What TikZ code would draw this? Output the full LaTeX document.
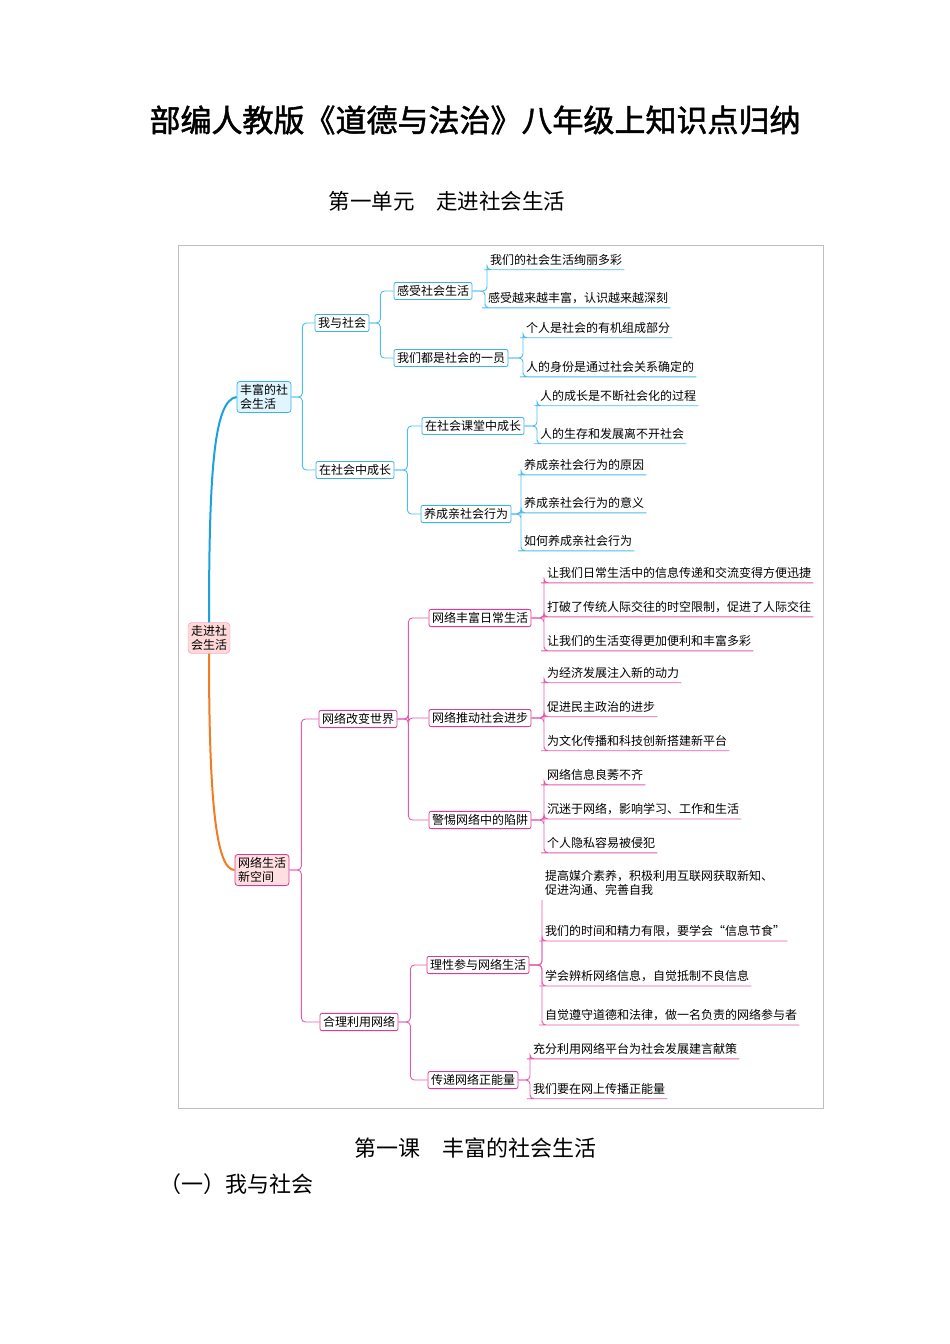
\documentclass[tikz,border=0pt]{standalone}
\usepackage{fontspec}
\newfontfamily\cjk{Noto Sans CJK SC}
\newfontfamily\cjkb{Noto Sans CJK SC}[FakeBold=1.6]
\begin{document}
\begin{tikzpicture}[x=1pt,y=-1pt,font=\cjk\fontsize{12}{14}\selectfont,
  cbox/.style={draw=cy,fill=white,rounded corners=2,inner sep=3pt,line width=0.8},
  pbox/.style={draw=pk,fill=white,rounded corners=2,inner sep=3pt,line width=0.8},
  leaf/.style={anchor=west,inner xsep=2pt,inner ysep=4pt,font=\cjk\fontsize{12}{14.5}\selectfont},
  cl/.style={draw=cyl,line width=0.9,rounded corners=4},
  pl/.style={draw=pkl,line width=0.9,rounded corners=4}]
\definecolor{cy}{HTML}{3AB4E6}\definecolor{cyl}{HTML}{4DBDEB}
\definecolor{pk}{HTML}{E0379A}\definecolor{pkl}{HTML}{E45AAE}
\definecolor{rb}{HTML}{1BA1E2}\definecolor{ro}{HTML}{F07B22}
\useasboundingbox (0,0) rectangle (950,1344);
\node[font=\cjkb\fontsize{31}{34}\selectfont] (title) at (475,120) {部编人教版《道德与法治》八年级上知识点归纳};
\node[font=\cjk\fontsize{21.5}{24}\selectfont] (sub) at (447,201) {第一单元\quad 走进社会生活};
\draw[gray!50,line width=0.6] (178,245) rectangle (823,1108);
% roots
\node[draw=pk!60,fill=pink!60,rounded corners=4,align=left,inner sep=3pt] (root) at (209,638) {走进社\\会生活};
\node[draw=cy,fill=cyan!12,rounded corners=3,align=left,inner sep=3pt,line width=0.8] (rich) at (264,397) {丰富的社\\会生活};
\node[draw=pk,fill=pink!50,rounded corners=3,align=left,inner sep=3pt,line width=0.8] (net) at (262,870) {网络生活\\新空间};
\draw[rb,line width=2] (root.north) .. controls (209,470) and (214,400) .. (rich.west);
\draw[ro,line width=2] (root.south) .. controls (209,800) and (216,870) .. (net.west);
% cyan level 2/3
\node[cbox] (a) at (342,323) {我与社会};
\node[cbox] (b) at (355,470) {在社会中成长};
\node[cbox] (a1) at (433,291) {感受社会生活};
\node[cbox] (a2) at (451,358) {我们都是社会的一员};
\node[cbox] (b1) at (473,426) {在社会课堂中成长};
\node[cbox] (b2) at (466,514) {养成亲社会行为};
\draw[cl] (rich.east) -- ++(11,0) |- (a.west);
\draw[cl] (rich.east) -- ++(11,0) |- (b.west);
\draw[cl] (a.east) -- ++(11,0) |- (a1.west);
\draw[cl] (a.east) -- ++(11,0) |- (a2.west);
\draw[cl] (b.east) -- ++(13,0) |- (b1.west);
\draw[cl] (b.east) -- ++(13,0) |- (b2.west);
% cyan leaves
\node[leaf] (l1) at (488,260) {我们的社会生活绚丽多彩};
\node[leaf] (l2) at (486,298) {感受越来越丰富，认识越来越深刻};
\node[leaf] (l3) at (524,328) {个人是社会的有机组成部分};
\node[leaf] (l4) at (524,367) {人的身份是通过社会关系确定的};
\node[leaf] (l5) at (538,396) {人的成长是不断社会化的过程};
\node[leaf] (l6) at (538,434) {人的生存和发展离不开社会};
\node[leaf] (l7) at (522,465) {养成亲社会行为的原因};
\node[leaf] (l8) at (522,503) {养成亲社会行为的意义};
\node[leaf] (l9) at (522,541) {如何养成亲社会行为};
\foreach \p/\l in {a1/l1,a1/l2,a2/l3,a2/l4,b1/l5,b1/l6,b2/l7,b2/l8,b2/l9}
  \draw[cl] (\p.east) -| ([xshift=-1]\l.south west) |- (\l.south west) -- (\l.south east);
% pink level 2/3
\node[pbox] (c) at (358,719) {网络改变世界};
\node[pbox] (d) at (359,1022) {合理利用网络};
\node[pbox] (c1) at (480,618) {网络丰富日常生活};
\node[pbox] (c2) at (480,718) {网络推动社会进步};
\node[pbox] (c3) at (480,820) {警惕网络中的陷阱};
\node[pbox] (d1) at (478,965) {理性参与网络生活};
\node[pbox] (d2) at (473,1080) {传递网络正能量};
\draw[pl] (net.east) -- ++(12,0) |- (c.west);
\draw[pl] (net.east) -- ++(12,0) |- (d.west);
\foreach \k in {c1,c2,c3} \draw[pl] (c.east) -- ++(11,0) |- (\k.west);
\foreach \k in {d1,d2} \draw[pl] (d.east) -- ++(12,0) |- (\k.west);
% pink leaves
\node[leaf] (m1) at (545,573) {让我们日常生活中的信息传递和交流变得方便迅捷};
\node[leaf] (m2) at (545,607) {打破了传统人际交往的时空限制，促进了人际交往};
\node[leaf] (m3) at (545,641) {让我们的生活变得更加便利和丰富多彩};
\node[leaf] (m4) at (545,673) {为经济发展注入新的动力};
\node[leaf] (m5) at (545,707) {促进民主政治的进步};
\node[leaf] (m6) at (545,741) {为文化传播和科技创新搭建新平台};
\node[leaf] (m7) at (545,775) {网络信息良莠不齐};
\node[leaf] (m8) at (545,809) {沉迷于网络，影响学习、工作和生活};
\node[leaf] (m9) at (545,843) {个人隐私容易被侵犯};
\node[leaf,align=left] (n1) at (543,883) {提高媒介素养，积极利用互联网获取新知、\\促进沟通、完善自我};
\node[leaf] (n2) at (543,931) {我们的时间和精力有限，要学会“信息节食”};
\node[leaf] (n3) at (543,976) {学会辨析网络信息，自觉抵制不良信息};
\node[leaf] (n4) at (543,1015) {自觉遵守道德和法律，做一名负责的网络参与者};
\node[leaf] (n5) at (531,1049) {充分利用网络平台为社会发展建言献策};
\node[leaf] (n6) at (531,1089) {我们要在网上传播正能量};
\foreach \p/\l in {c1/m1,c1/m2,c1/m3,c2/m4,c2/m5,c2/m6,c3/m7,c3/m8,c3/m9,d1/n2,d1/n3,d1/n4,d2/n5,d2/n6}
  \draw[pl] (\p.east) -| ([xshift=-1]\l.south west) |- (\l.south west) -- (\l.south east);
\draw[pl] (d1.east) -| ([xshift=-1]n1.south west);
% bottom
\node[font=\cjk\fontsize{22}{26}\selectfont] (les) at (475,1148) {第一课\quad 丰富的社会生活};
\node[font=\cjk\fontsize{22}{26}\selectfont,anchor=west] (sec) at (156,1184) {（一）我与社会};
\end{tikzpicture}
\end{document}
